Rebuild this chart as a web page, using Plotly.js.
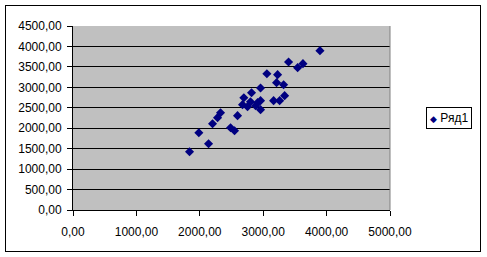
<!DOCTYPE html>
<html>
<head>
<meta charset="utf-8">
<script src="https://cdn.plot.ly/plotly-3.0.1.min.js"></script>
<style>
  html, body { margin: 0; padding: 0; background: #fff; }
  #frame { position: absolute; left: 5px; top: 5px; width: 476px; height: 247px; box-sizing: border-box; border: 1px solid #000; }
  #chart { width: 474px; height: 245px; }
</style>
</head>
<body>
<div id="frame"><div id="chart"></div></div>
<script>
const seriesName = "Ряд1";
const xValues = [3895, 3400, 3543, 3627, 3058, 3227, 3211, 3322, 2958, 2816,
                 2695, 2800, 2674, 2753, 2880, 2911, 2958, 2958, 3164, 3259,
                 3338, 2595, 2327, 2280, 2201, 2485, 2548, 1985, 2138, 1838];
const yValues = [3897, 3620, 3481, 3579, 3334, 3310, 3114, 3065, 2984, 2869,
                 2747, 2649, 2576, 2527, 2551, 2625, 2674, 2454, 2674, 2674,
                 2796, 2307, 2380, 2258, 2111, 2013, 1940, 1891, 1622, 1426];

const font = { family: "Liberation Sans, Arial, sans-serif", size: 12, color: "#000" };
const markerColor = "#000080";

const trace = {
  type: "scatter", mode: "markers", name: seriesName,
  x: xValues, y: yValues,
  marker: { symbol: "diamond", size: 7, color: markerColor, line: { width: 0 } },
  showlegend: false
};

const layout = {
  width: 474, height: 245,
  margin: { l: 67, r: 90, t: 20, b: 41, autoexpand: false },
  paper_bgcolor: "#ffffff",
  plot_bgcolor: "#c0c0c0",
  separators: ", ",
  font: font,
  showlegend: false,
  xaxis: {
    range: [0, 5000], dtick: 1000, tick0: 0, tickformat: ".2f",
    showgrid: false, zeroline: false, showline: true, linecolor: "#000", linewidth: 1,
    ticks: "outside", ticklen: 5, tickcolor: "#000", fixedrange: true,
    tickfont: font, ticklabelstandoff: 6
  },
  yaxis: {
    range: [0, 4500], dtick: 500, tick0: 0, tickformat: ".2f",
    showgrid: true, gridcolor: "#000", gridwidth: 1,
    zeroline: false, showline: true, linecolor: "#000", linewidth: 1,
    ticks: "outside", ticklen: 5, tickcolor: "#000", fixedrange: true,
    tickfont: font, ticklabelstandoff: 3
  },
  annotations: [
    { xref: "paper", yref: "paper", x: 1.112, y: 0.56, xanchor: "left", yanchor: "top",
      showarrow: false, align: "left",
      text: '<span style="color:' + markerColor + ';font-size:9px">◆</span> ' + seriesName,
      font: font, bgcolor: "#fff", bordercolor: "#000", borderwidth: 1, borderpad: 3 }
  ],
  shapes: [
    { type: "line", xref: "paper", yref: "paper", x0: 1, x1: 1, y0: 0, y1: 1,
      line: { color: "#808080", width: 1 } }
  ]
};

Plotly.newPlot("chart", [trace], layout, { displayModeBar: false, staticPlot: true });
</script>
</body>
</html>
